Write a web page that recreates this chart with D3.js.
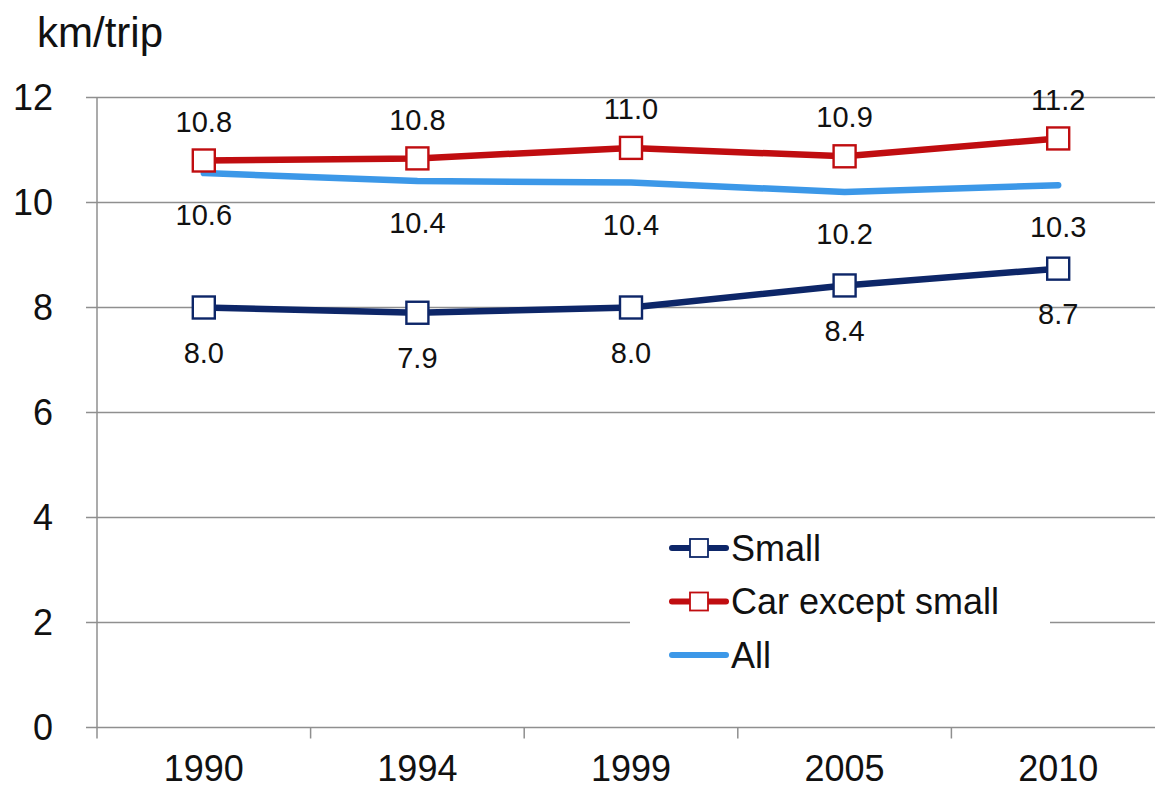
<!DOCTYPE html>
<html><head><meta charset="utf-8">
<script src="https://cdn.jsdelivr.net/npm/d3@7"></script>
<style>
html,body{margin:0;padding:0;background:#fff;}
svg{display:block;font-family:"Liberation Sans",Arial,sans-serif;}
</style></head>
<body>
<svg id="chart" width="1155" height="789"></svg>
<script>
const years = ["1990","1994","1999","2005","2010"];
const smallVals = [8.0, 7.9, 8.0, 8.42, 8.74];
const carExceptSmallVals = [10.8, 10.84, 11.04, 10.88, 11.22];
const allVals = [10.56, 10.41, 10.38, 10.2, 10.33];
const yTicks = [0, 2, 4, 6, 8, 10, 12];
const seriesNames = ["Small", "Car except small", "All"];
const yTitle = "km/trip";

(function () {
const W = 1155, H = 789;
const pLeft = 97, pRight = 1165, pTop = 97.5, pBottom = 727.5;
const svg = d3.select("#chart");

const x = d3.scaleBand().domain(years).range([pLeft, pRight]).padding(0);
const cx = d => x(d) + x.bandwidth() / 2;
const y = d3.scaleLinear().domain([0, 12]).range([pBottom, pTop]);

const gridColor = "#8f8f8f";

svg.append("g").selectAll("line").data(yTicks).join("line")
  .attr("x1", 86).attr("x2", W)
  .attr("y1", d => y(d)).attr("y2", d => y(d))
  .attr("stroke", gridColor).attr("stroke-width", 1.5);

svg.append("line").attr("x1", pLeft).attr("x2", pLeft)
  .attr("y1", y(12)).attr("y2", pBottom + 11)
  .attr("stroke", gridColor).attr("stroke-width", 1.5);

svg.append("g").selectAll("line").data(years.slice(1)).join("line")
  .attr("x1", d => x(d)).attr("x2", d => x(d))
  .attr("y1", pBottom).attr("y2", pBottom + 11)
  .attr("stroke", gridColor).attr("stroke-width", 1.5);

svg.append("g").selectAll("text").data(yTicks).join("text")
  .attr("x", 53).attr("y", d => y(d))
  .attr("dy", "0.35em").attr("text-anchor", "end")
  .attr("font-size", 36).attr("fill", "#111")
  .text(d => d);

svg.append("g").selectAll("text").data(years).join("text")
  .attr("x", d => cx(d)).attr("y", 781)
  .attr("text-anchor", "middle")
  .attr("font-size", 36).attr("fill", "#111")
  .text(d => d);

svg.append("text").attr("x", 37).attr("y", 47)
  .attr("font-size", 42).attr("fill", "#111").text(yTitle);

const colors = { small: "#0d2668", car: "#c00d10", all: "#3c98e8" };

const line = d3.line().x(d => cx(d.year)).y(d => y(d.v));
const mk = vals => years.map((yr, i) => ({ year: yr, v: vals[i] }));

const allData = mk(allVals), carData = mk(carExceptSmallVals), smallData = mk(smallVals);

svg.append("path").datum(allData).attr("d", line)
  .attr("fill", "none").attr("stroke", colors.all).attr("stroke-width", 6.5)
  .attr("stroke-linecap", "round").attr("stroke-linejoin", "round");
svg.append("path").datum(carData).attr("d", line)
  .attr("fill", "none").attr("stroke", colors.car).attr("stroke-width", 6.5)
  .attr("stroke-linejoin", "round");
svg.append("path").datum(smallData).attr("d", line)
  .attr("fill", "none").attr("stroke", colors.small).attr("stroke-width", 6.5)
  .attr("stroke-linejoin", "round");

const ms = 22;
function markers(data, color) {
  svg.append("g").selectAll("rect").data(data).join("rect")
    .attr("x", d => cx(d.year) - ms / 2).attr("y", d => y(d.v) - ms / 2)
    .attr("width", ms).attr("height", ms)
    .attr("fill", "#fff").attr("stroke", color).attr("stroke-width", 2.4);
}
markers(carData, colors.car);
markers(smallData, colors.small);

function labels(data, dy) {
  svg.append("g").selectAll("text").data(data).join("text")
    .attr("x", d => cx(d.year)).attr("y", d => y(d.v) + dy)
    .attr("dy", "0.35em").attr("text-anchor", "middle")
    .attr("font-size", 29).attr("fill", "#111")
    .text(d => d.v.toFixed(1));
}
labels(carData, -39);
labels(allData, 42);
labels(smallData, 45);

const lg = svg.append("g");
lg.append("rect").attr("x", 630).attr("y", 528).attr("width", 420).attr("height", 160).attr("fill", "#fff");
const legendItems = [
  { name: seriesNames[0], color: colors.small, marker: true },
  { name: seriesNames[1], color: colors.car, marker: true },
  { name: seriesNames[2], color: colors.all, marker: false }
];
const rowY = d3.scalePoint().domain(seriesNames).range([548, 655]);
legendItems.forEach(it => {
  const yy = rowY(it.name);
  lg.append("line").attr("x1", 672).attr("x2", 726).attr("y1", yy).attr("y2", yy)
    .attr("stroke", it.color).attr("stroke-width", 6).attr("stroke-linecap", "round");
  if (it.marker) {
    lg.append("rect").attr("x", 699 - 9).attr("y", yy - 9).attr("width", 18).attr("height", 18)
      .attr("fill", "#fff").attr("stroke", it.color).attr("stroke-width", 1.8);
  }
  lg.append("text").attr("x", 731).attr("y", yy).attr("dy", "0.35em")
    .attr("font-size", 36).attr("fill", "#111").text(it.name);
});
})();
</script>
</body></html>
